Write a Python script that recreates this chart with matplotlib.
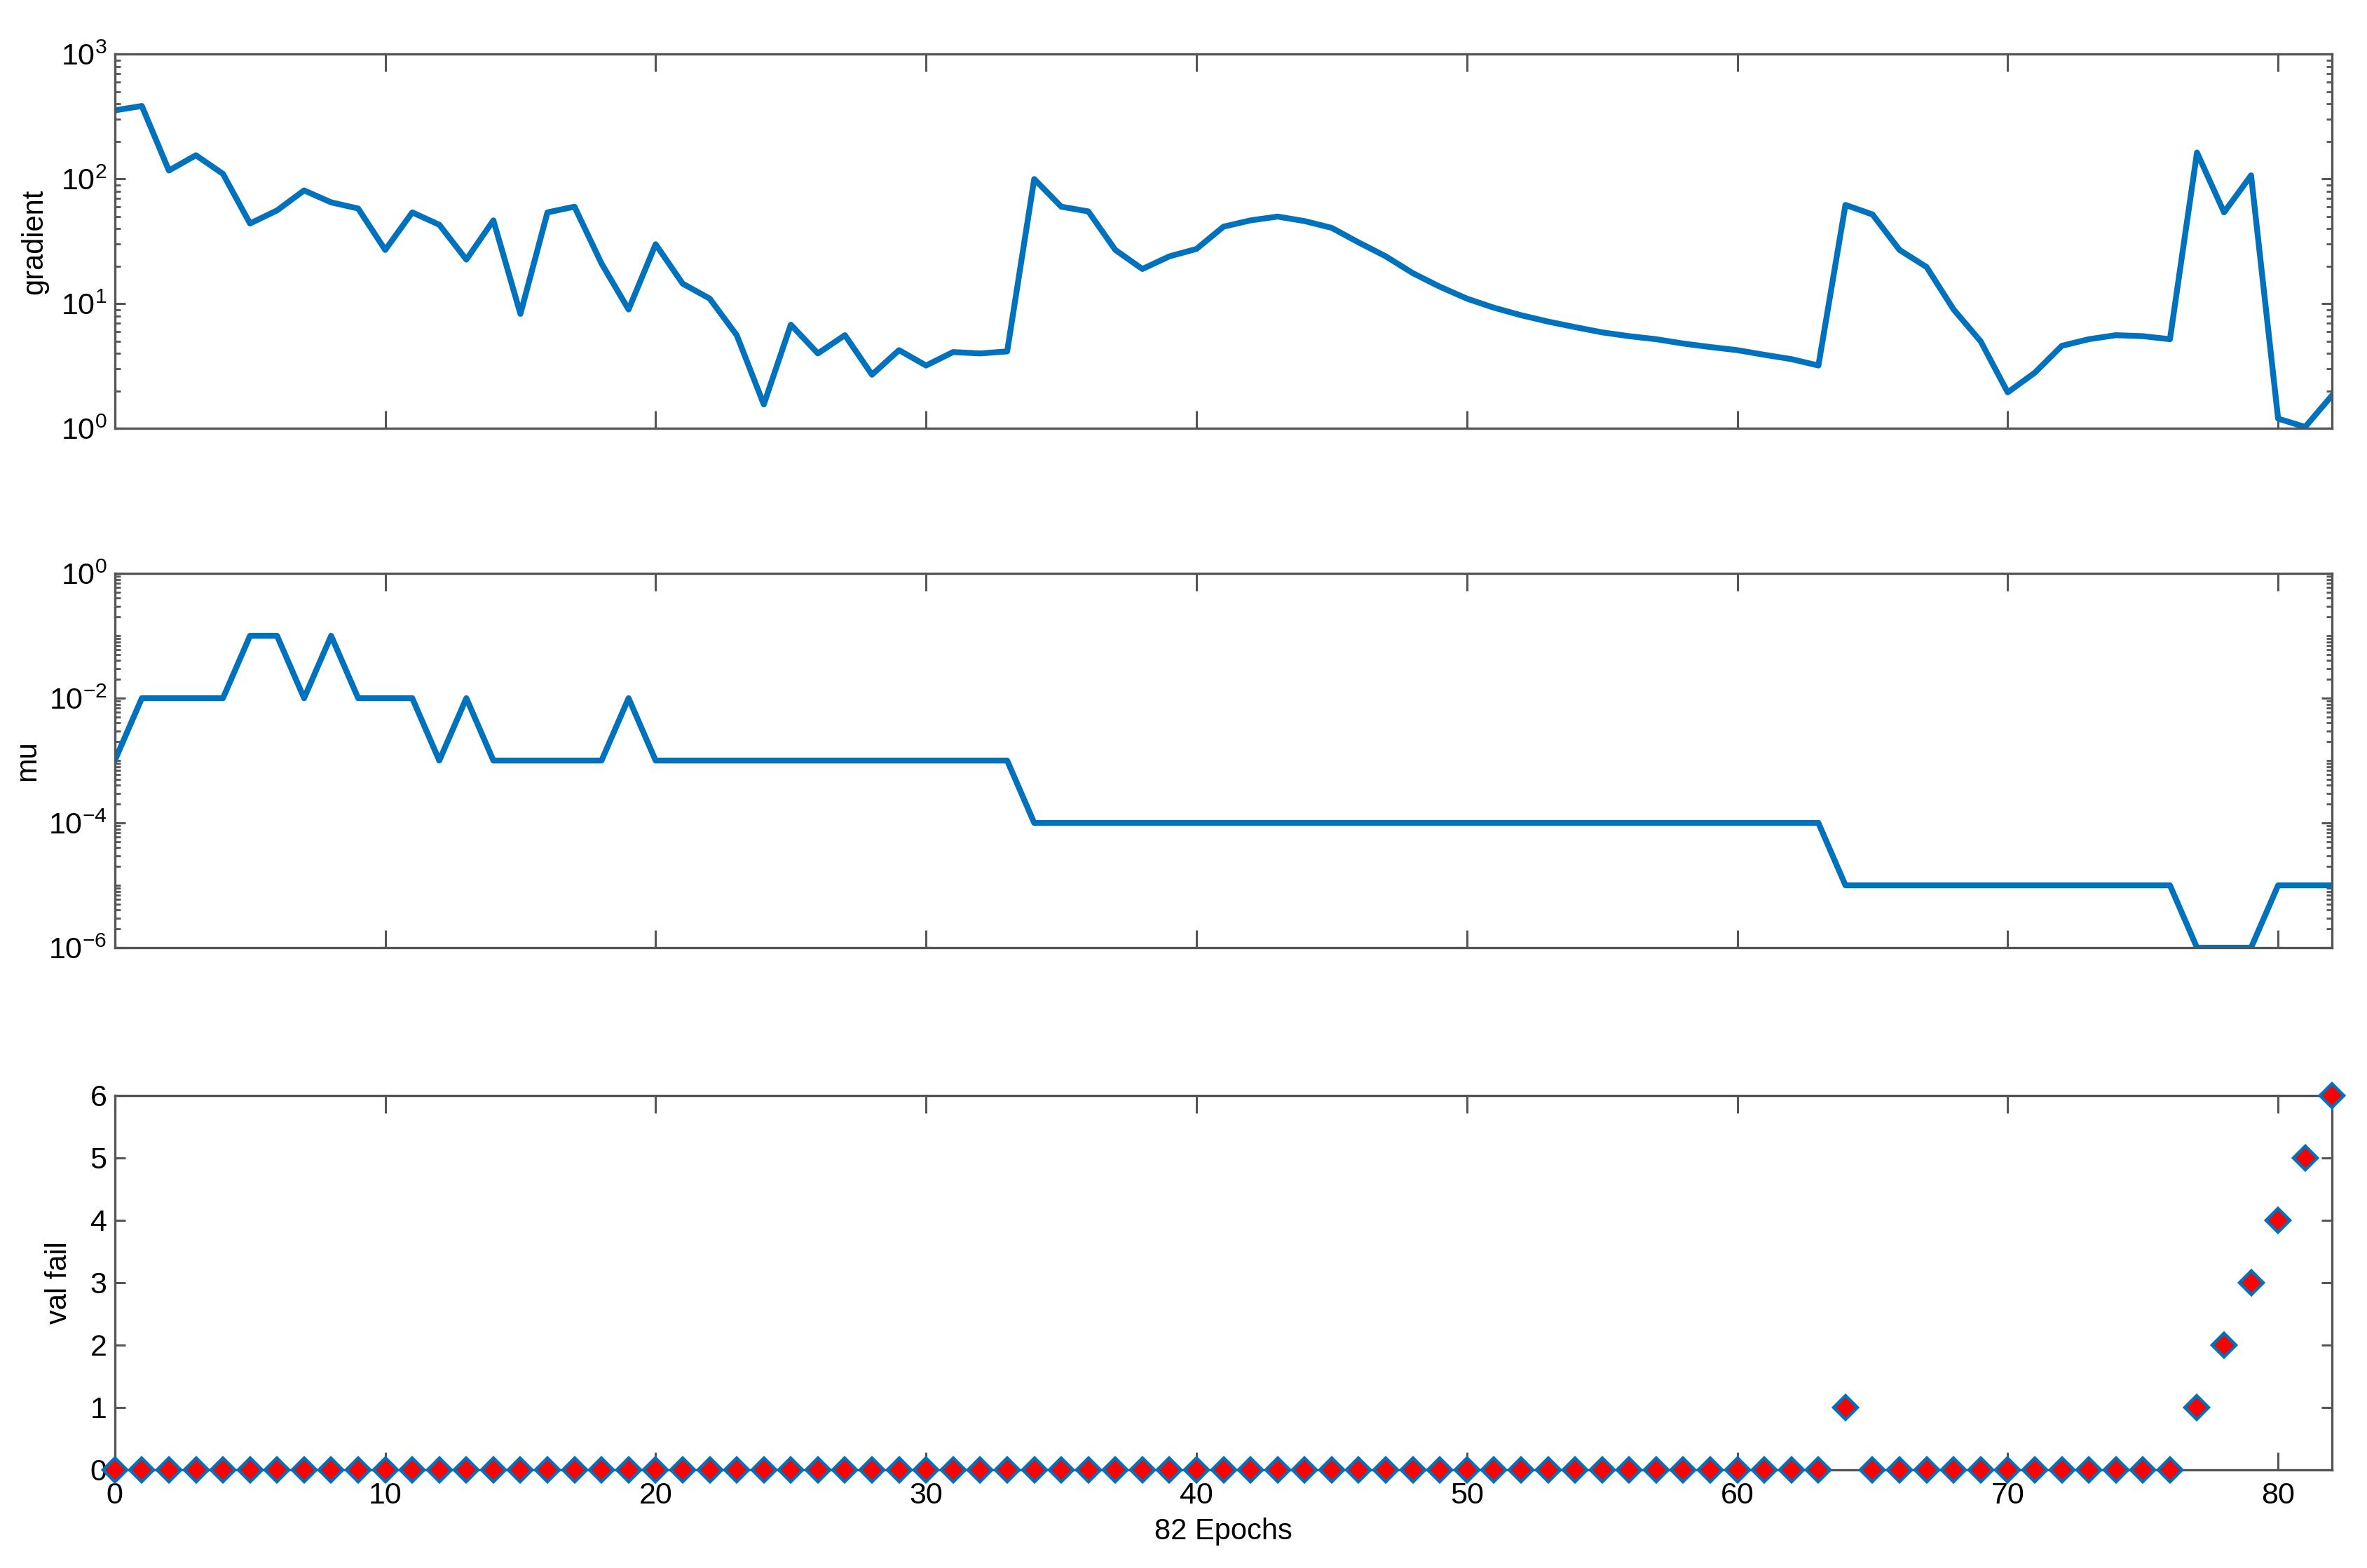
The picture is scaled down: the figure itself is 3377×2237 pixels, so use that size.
import numpy as np
import matplotlib
matplotlib.use("Agg")
import matplotlib.pyplot as plt
from matplotlib.ticker import LogLocator, FixedLocator, NullFormatter, LogFormatterSciNotation

plt.rcParams['font.family'] = ['Liberation Sans', 'DejaVu Sans']
plt.rcParams['mathtext.default'] = 'regular'

# training record, one value per epoch (0..82)
epochs = np.arange(0, 83)

gradient = [355, 385, 117, 155, 110, 44, 56, 81, 65, 58,
            27, 54, 43, 22.6, 46.6, 8.3, 54, 60, 21, 9,
            30, 14.5, 11, 5.6, 1.56, 6.8, 4.0, 5.6, 2.7, 4.25,
            3.2, 4.1, 4.0, 4.15, 100, 60, 55, 27, 19, 24,
            27.5, 41.5, 46.6, 50, 46, 40.6, 31, 24, 17.6, 13.7,
            11, 9.3, 8.1, 7.2, 6.5, 5.9, 5.5, 5.2, 4.8, 4.5,
            4.25, 3.9, 3.6, 3.2, 62, 52, 27, 19.7, 9, 5.0,
            1.95, 2.8, 4.6, 5.2, 5.6, 5.5, 5.2, 163, 54, 107,
            1.2, 1.03, 1.85]

mu_exp = [-3, -2, -2, -2, -2, -1, -1, -2, -1, -2,
          -2, -2, -3, -2, -3, -3, -3, -3, -3, -2,
          -3, -3, -3, -3, -3, -3, -3, -3, -3, -3,
          -3, -3, -3, -3] + [-4] * 30 + [-5] * 13 + [-6, -6, -6, -5, -5, -5]
mu = [10.0 ** e for e in mu_exp]

val_fail = [0] * 64 + [1] + [0] * 12 + [1, 2, 3, 4, 5, 6]

blue = '#0072BD'
axcol = '#555555'

fig = plt.figure(figsize=(3377 / 200, 2237 / 200), dpi=200)
left, width = 0.0485, 0.9368
ax1 = fig.add_axes([left, 0.7267, width, 0.2387])
ax2 = fig.add_axes([left, 0.3956, width, 0.2387])
ax3 = fig.add_axes([left, 0.0626, width, 0.2387])

ax1.plot(epochs, gradient, color=blue, lw=3.0)
ax1.set_yscale('log')
ax1.set_ylim(1, 1000)
ax1.set_ylabel('gradient', fontsize=15)

ax2.plot(epochs, mu, color=blue, lw=3.0)
ax2.set_yscale('log')
ax2.set_ylim(1e-6, 1)
ax2.yaxis.set_major_locator(FixedLocator([1e-6, 1e-4, 1e-2, 1]))
ax2.set_ylabel('mu', fontsize=15)

ax3.plot(epochs, val_fail, ls='none', marker='D', ms=8.5, mfc='red',
         mec=blue, mew=1.6, clip_on=False, zorder=5)
ax3.set_ylim(0, 6)
ax3.set_yticks(range(0, 7))
ax3.set_ylabel('val fail', fontsize=15)
ax3.set_xlabel('82 Epochs', fontsize=15, labelpad=4)

for ax in (ax1, ax2, ax3):
    ax.set_xlim(0, 82)
    ax.set_xticks(range(0, 81, 10))
    for s in ax.spines.values():
        s.set_color(axcol)
        s.set_linewidth(1.2)
    ax.tick_params(axis='x', which='major', direction='in', length=9, width=1.1,
                   color=axcol, top=True, bottom=True, labelsize=15.5, pad=6)
    ax.tick_params(axis='y', which='major', direction='in', length=5.5, width=1.1,
                   color=axcol, left=True, right=True, labelsize=15.5, pad=4)
    ax.tick_params(axis='y', which='minor', direction='in', length=2.8, width=1.0,
                   color=axcol, left=True, right=True)
    ax.tick_params(axis='x', which='minor', bottom=False, top=False)

for ax in (ax1, ax2):
    ax.tick_params(axis='x', labelbottom=False)
    ax.yaxis.set_minor_locator(LogLocator(base=10, subs=np.arange(1, 10), numticks=100))
    ax.yaxis.set_minor_formatter(NullFormatter())
    ax.yaxis.set_major_formatter(LogFormatterSciNotation())

ax1.yaxis.set_label_coords(-0.03, 0.5)
ax2.yaxis.set_label_coords(-0.033, 0.5)
ax3.yaxis.set_label_coords(-0.019, 0.5)

fig.savefig('out.png', dpi=200)
